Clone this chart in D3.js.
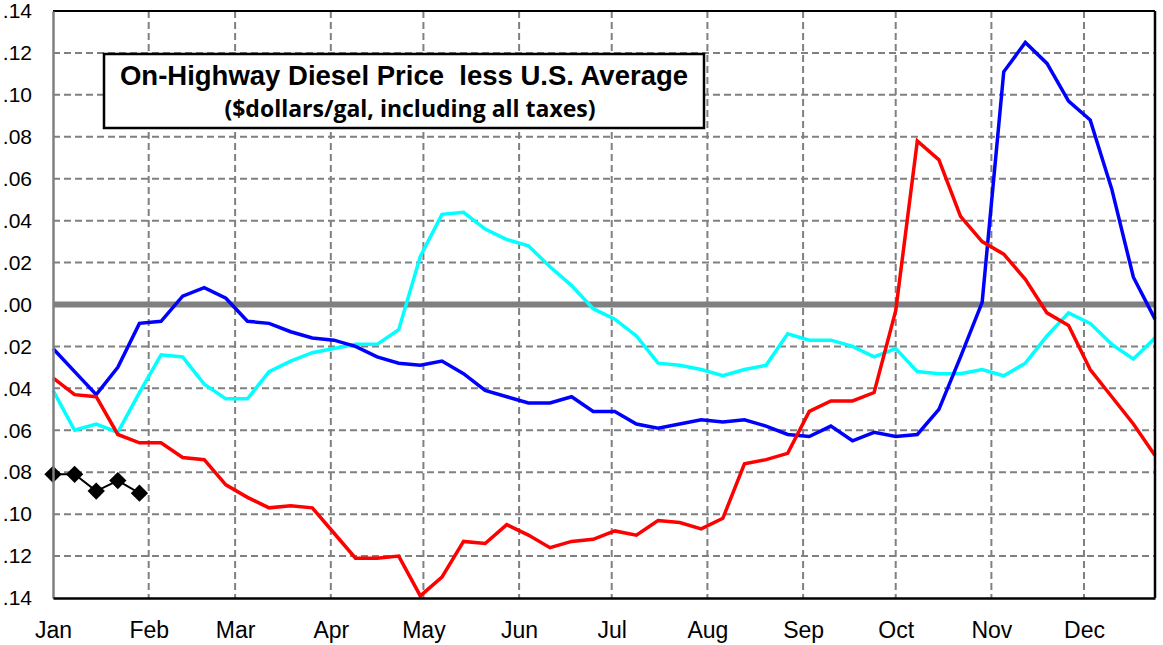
<!DOCTYPE html>
<html>
<head>
<meta charset="utf-8">
<script src="https://cdn.jsdelivr.net/npm/d3@7"></script>
<style>
  html, body { margin: 0; padding: 0; background: #fff; overflow: hidden; }
  text { font-family: "Liberation Sans", Arial, sans-serif; }
</style>
</head>
<body>
<svg id="chart" width="1163" height="645"></svg>
<script>
// Weekly regional on-highway diesel price minus the U.S. average ($/gal)
const monthLabels = ["Jan", "Feb", "Mar", "Apr", "May", "Jun", "Jul", "Aug", "Sep", "Oct", "Nov", "Dec"];

const blueSeries = [
  -0.021, -0.032, -0.043, -0.030, -0.009, -0.008, 0.004, 0.008, 0.003, -0.008,
  -0.009, -0.013, -0.016, -0.017, -0.020, -0.025, -0.028, -0.029, -0.027, -0.033,
  -0.041, -0.044, -0.047, -0.047, -0.044, -0.051, -0.051, -0.057, -0.059, -0.057,
  -0.055, -0.056, -0.055, -0.058, -0.062, -0.063, -0.058, -0.065, -0.061, -0.063,
  -0.062, -0.050, -0.025, 0.001, 0.111, 0.125, 0.115, 0.097, 0.088, 0.055,
  0.013, -0.007
];

const cyanSeries = [
  -0.041, -0.060, -0.057, -0.061, -0.042, -0.024, -0.025, -0.038, -0.045, -0.045,
  -0.032, -0.027, -0.023, -0.021, -0.019, -0.019, -0.012, 0.023, 0.043, 0.044,
  0.036, 0.031, 0.028, 0.018, 0.009, -0.002, -0.007, -0.015, -0.028, -0.029,
  -0.031, -0.034, -0.031, -0.029, -0.014, -0.017, -0.017, -0.020, -0.025, -0.021,
  -0.032, -0.033, -0.033, -0.031, -0.034, -0.028, -0.015, -0.004, -0.009, -0.019,
  -0.026, -0.016
];

const redSeries = [
  -0.035, -0.043, -0.044, -0.062, -0.066, -0.066, -0.073, -0.074, -0.086, -0.092,
  -0.097, -0.096, -0.097, -0.109, -0.121, -0.121, -0.120, -0.139, -0.130, -0.113,
  -0.114, -0.105, -0.110, -0.116, -0.113, -0.112, -0.108, -0.110, -0.103, -0.104,
  -0.107, -0.102, -0.076, -0.074, -0.071, -0.051, -0.046, -0.046, -0.042, -0.003,
  0.078, 0.069, 0.042, 0.030, 0.024, 0.012, -0.004, -0.010, -0.031, -0.044,
  -0.057, -0.072
];

const currentYearSeries = [-0.081, -0.081, -0.089, -0.084, -0.090];

const yTickValues = [0.14, 0.12, 0.10, 0.08, 0.06, 0.04, 0.02, 0.00,
                     -0.02, -0.04, -0.06, -0.08, -0.10, -0.12, -0.14];

const titleText = "On-Highway Diesel Price  less U.S. Average";
const subtitleText = "($dollars/gal, including all taxes)";

// ---- layout ----
const svg = d3.select("#chart");
const plot = { left: 53, right: 1155, top: 11, bottom: 598 };

const yearStart = new Date(2001, 0, 1);
const weekDate = i => d3.timeDay.offset(yearStart, 7 * i);
const lastWeek = blueSeries.length - 1;

const x = d3.scaleTime()
  .domain([yearStart, weekDate(lastWeek)])
  .range([plot.left, plot.right]);

const y = d3.scaleLinear()
  .domain([-0.14, 0.14])
  .range([plot.bottom, plot.top]);

const monthStarts = monthLabels.map((m, i) => new Date(2001, i, 1));

// ---- grid ----
const grid = svg.append("g").attr("class", "grid")
  .attr("stroke", "#808080").attr("stroke-width", 2)
  .attr("stroke-dasharray", "7,4").attr("fill", "none");

grid.selectAll("line.h")
  .data(yTickValues.filter(v => Math.abs(v) > 1e-9 && Math.abs(v) < 0.139))
  .join("line").attr("class", "h")
  .attr("x1", plot.left).attr("x2", plot.right)
  .attr("y1", d => y(d)).attr("y2", d => y(d));

grid.selectAll("line.v")
  .data(monthStarts.slice(1))
  .join("line").attr("class", "v")
  .attr("x1", d => x(d)).attr("x2", d => x(d))
  .attr("y1", plot.top).attr("y2", plot.bottom);

// zero reference line
svg.append("line")
  .attr("x1", plot.left).attr("x2", plot.right)
  .attr("y1", y(0)).attr("y2", y(0))
  .attr("stroke", "#808080").attr("stroke-width", 6);

// ---- title box ----
const titleBox = svg.append("g");
titleBox.append("rect")
  .attr("x", 104).attr("y", 54).attr("width", 600).attr("height", 74)
  .attr("fill", "#fff").attr("stroke", "#000").attr("stroke-width", 2.5);
titleBox.append("text")
  .attr("x", 404).attr("y", 85)
  .attr("text-anchor", "middle")
  .style("white-space", "pre")
  .style("font-weight", "bold").style("font-size", "27.5px")
  .text(titleText);
titleBox.append("text")
  .attr("x", 410).attr("y", 117)
  .attr("text-anchor", "middle")
  .style("font-family", "'Open Sans', Lato, sans-serif")
  .style("font-weight", "bold").style("font-size", "23px")
  .text(subtitleText);

// ---- series ----
const line = d3.line()
  .x((d, i) => x(weekDate(i)))
  .y(d => y(d));

const seriesDefs = [
  { values: cyanSeries, color: "#00FFFF" },
  { values: blueSeries, color: "#0000FF" },
  { values: redSeries, color: "#FF0000" }
];

svg.append("g").selectAll("path")
  .data(seriesDefs)
  .join("path")
  .attr("d", d => line(d.values))
  .attr("fill", "none")
  .attr("stroke", d => d.color)
  .attr("stroke-width", 3.5)
  .attr("stroke-linejoin", "miter");

const current = svg.append("g");
current.append("path")
  .attr("d", line(currentYearSeries))
  .attr("fill", "none").attr("stroke", "#000").attr("stroke-width", 2);
current.selectAll("path.marker")
  .data(currentYearSeries)
  .join("path").attr("class", "marker")
  .attr("d", d3.symbol(d3.symbolSquare, 150))
  .attr("transform", (d, i) => `translate(${x(weekDate(i))},${y(d)}) rotate(45)`)
  .attr("fill", "#000");

// ---- frame ----
svg.append("line")
  .attr("x1", plot.left).attr("x2", plot.right)
  .attr("y1", plot.top).attr("y2", plot.top)
  .attr("stroke", "#000").attr("stroke-width", 2);
svg.append("line")
  .attr("x1", plot.right).attr("x2", plot.right)
  .attr("y1", plot.top).attr("y2", plot.bottom)
  .attr("stroke", "#000").attr("stroke-width", 2.5);

// y axis
const yAxis = svg.append("g")
  .attr("transform", `translate(${plot.left},0)`)
  .call(d3.axisLeft(y)
    .tickValues(yTickValues)
    .tickSize(0).tickPadding(21)
    .tickFormat(d => d3.format(".2f")(Math.abs(d)).replace(/^0/, "")));
yAxis.select(".domain").attr("stroke", "#808080").attr("stroke-width", 2.5);
yAxis.selectAll("text")
  .style("font-family", "'Liberation Sans', Arial, sans-serif")
  .style("font-size", "21px").attr("fill", "#000");

// x axis
const xAxis = svg.append("g")
  .attr("transform", `translate(0,${plot.bottom})`)
  .call(d3.axisBottom(x)
    .tickValues(monthStarts)
    .tickSize(0).tickPadding(24)
    .tickFormat((d, i) => monthLabels[i]));
xAxis.select(".domain").attr("stroke", "#000").attr("stroke-width", 2.5);
xAxis.selectAll("text")
  .style("font-family", "'Liberation Sans', Arial, sans-serif")
  .style("font-size", "23px").attr("fill", "#000");
</script>
</body>
</html>
